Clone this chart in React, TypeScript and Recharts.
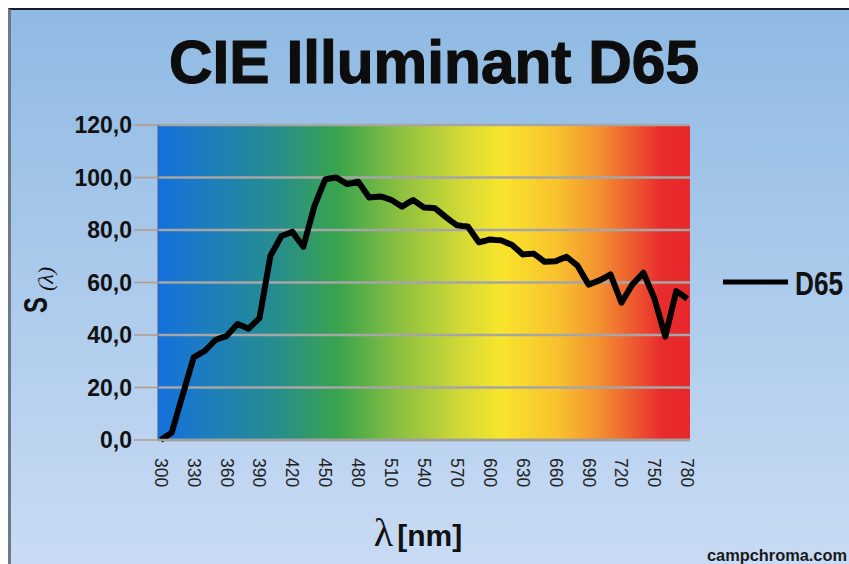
import { LineChart, Line, XAxis, YAxis, CartesianGrid, Legend } from "recharts";

// wavelength in nm
const wavelengths = [
  300, 305, 310, 315, 320, 325, 330, 335, 340, 345, 350, 355, 360, 365, 370, 375,
  380, 385, 390, 395, 400, 405, 410, 415, 420, 425, 430, 435, 440, 445, 450, 455,
  460, 465, 470, 475, 480, 485, 490, 495, 500, 505, 510, 515, 520, 525, 530, 535,
  540, 545, 550, 555, 560, 565, 570, 575, 580, 585, 590, 595, 600, 605, 610, 615,
  620, 625, 630, 635, 640, 645, 650, 655, 660, 665, 670, 675, 680, 685, 690, 695,
  700, 705, 710, 715, 720, 725, 730, 735, 740, 745, 750, 755, 760, 765, 770, 775,
  780,
];

// relative spectral power S(λ)
const d65 = [
  0.0, 1.4, 2.8, 10.0, 17.2, 24.3, 31.5, 32.7, 33.9, 36.0, 38.1, 38.9, 39.6, 41.9, 44.2, 43.3,
  42.4, 44.4, 46.4, 58.3, 70.2, 73.9, 77.7, 78.5, 79.3, 76.4, 73.6, 81.3, 89.0, 94.2, 99.3, 99.7,
  100.0, 98.7, 97.5, 97.9, 98.4, 95.4, 92.4, 92.6, 92.8, 92.2, 91.5, 90.2, 88.9, 90.2, 91.4, 90.0,
  88.6, 88.5, 88.3, 86.6, 84.9, 83.3, 81.8, 81.5, 81.3, 78.3, 75.3, 75.8, 76.4, 76.2, 76.1, 75.2,
  74.4, 72.6, 70.7, 70.9, 71.0, 69.5, 67.9, 68.0, 68.1, 69.0, 69.8, 68.1, 66.4, 62.8, 59.2, 60.0,
  60.8, 61.9, 63.1, 57.7, 52.3, 55.8, 59.3, 61.5, 63.7, 58.9, 54.0, 46.7, 39.4, 48.1, 56.7, 55.3,
  53.8,
];

const xTicks = [300, 330, 360, 390, 420, 450, 480, 510, 540, 570, 600, 630, 660, 690, 720, 750, 780];
const yTicks = [0, 20, 40, 60, 80, 100, 120];

const data = wavelengths.map((nm, i) => ({ nm, D65: d65[i] }));

const sans = "'Liberation Sans', Arial, sans-serif";

const YTick = ({ x, y, payload }: any) => (
  <text x={x} y={y} textAnchor="end" dominantBaseline="central" fontFamily={sans} fontWeight="bold" fontSize={23} fill="#111">
    {payload.value.toFixed(1).replace(".", ",")}
  </text>
);

const XTick = ({ x, y, payload }: any) => (
  <text x={x} y={y} transform={`rotate(90 ${x} ${y})`} textAnchor="start" dominantBaseline="central" fontFamily={sans} fontSize={17.5} fill="#222">
    {payload.value}
  </text>
);

const XTitle = ({ viewBox }: any) => {
  const cx = viewBox.x + viewBox.width / 2 - 6;
  return (
    <text x={cx} y={546} textAnchor="middle" fill="#111">
      <tspan fontFamily="'Liberation Serif', serif" fontSize={40}>λ</tspan>
      <tspan dx={4} fontFamily={sans} fontWeight="bold" fontSize={30}>[nm]</tspan>
    </text>
  );
};

const YTitle = () => (
  <g fill="#111">
    <text transform="translate(47 313) rotate(-90) scale(0.72 1)" fontFamily={sans} fontWeight="bold" fontSize={33}>
      S
    </text>
    <text transform="translate(53 291) rotate(-90)" fontFamily="'Liberation Serif', serif" fontStyle="italic" fontSize={22}>
      (λ)
    </text>
  </g>
);

const LegendBox = () => (
  <svg width={129} height={44}>
    <line x1={5} y1={20} x2={70} y2={20} stroke="#000" strokeWidth={5} />
    <text transform="translate(77 33) scale(0.77 1)" fontFamily={sans} fontWeight="bold" fontSize={34} fill="#111">
      D65
    </text>
  </svg>
);

export default function App() {
  return (
    <div style={{ position: "absolute", left: 0, top: 0, width: 849, height: 564, background: "#fff", overflow: "hidden" }}>
      <div
        style={{
          position: "absolute",
          left: 8,
          top: 8,
          right: 0,
          bottom: 0,
          borderLeft: "3px solid #6b7a88",
          borderTop: "2px solid #151a35",
          background: "linear-gradient(#8fbae3, #c9dbf4)",
        }}
      />
      <svg width={849} height={120} style={{ position: "absolute", left: 0, top: 0 }}>
        <text
          x={434}
          y={83}
          textAnchor="middle"
          fontFamily={sans}
          fontWeight="bold"
          fontSize={61}
          textLength={530}
          lengthAdjust="spacingAndGlyphs"
          fill="#0d0d0d"
          stroke="#0d0d0d"
          strokeWidth={1.2}
        >
          CIE Illuminant D65
        </text>
      </svg>
      <div style={{ position: "absolute", left: 0, top: 0 }}>
        <LineChart width={849} height={564} data={data} margin={{ top: 125, right: 159, bottom: 64, left: 78 }}>
          <defs>
            <linearGradient id="spectrum" x1="0" y1="0" x2="1" y2="0">
              <stop offset="0" stopColor="#1470dc" />
              <stop offset="0.08" stopColor="#1b7cc2" />
              <stop offset="0.22" stopColor="#268d8e" />
              <stop offset="0.34" stopColor="#3aa44c" />
              <stop offset="0.455" stopColor="#8cc040" />
              <stop offset="0.57" stopColor="#d2d936" />
              <stop offset="0.645" stopColor="#f9e52c" />
              <stop offset="0.755" stopColor="#f8c02e" />
              <stop offset="0.83" stopColor="#f39030" />
              <stop offset="0.905" stopColor="#ec5030" />
              <stop offset="0.945" stopColor="#e82c2c" />
              <stop offset="1" stopColor="#e8282c" />
            </linearGradient>
          </defs>
          <CartesianGrid vertical={false} fill="url(#spectrum)" fillOpacity={1} stroke="#a6a6a6" strokeWidth={2.5} />
          <XAxis
            dataKey="nm"
            type="number"
            domain={[297.5, 782.5]}
            ticks={xTicks}
            interval={0}
            height={60}
            tickLine={false}
            tickSize={6}
            tickMargin={12}
            axisLine={{ stroke: "#a0a0a0", strokeWidth: 2.5 }}
            tick={<XTick />}
            label={<XTitle />}
          />
          <YAxis
            domain={[0, 120]}
            ticks={yTicks}
            interval={0}
            width={80}
            tickSize={24}
            tickMargin={2}
            tickLine={{ stroke: "#b39b84", strokeWidth: 1.5 }}
            axisLine={{ stroke: "#3c5f99", strokeWidth: 1 }}
            tick={<YTick />}
            label={<YTitle />}
          />
          <Legend
            layout="horizontal"
            verticalAlign="middle"
            align="center"
            wrapperStyle={{ left: 718, top: 262, width: 129 }}
            content={<LegendBox />}
          />
          <Line type="linear" dataKey="D65" stroke="#000" strokeWidth={6} strokeLinejoin="round" dot={false} isAnimationActive={false} />
        </LineChart>
      </div>
      <svg width={849} height={564} style={{ position: "absolute", left: 0, top: 0, pointerEvents: "none" }}>
        <text x={707} y={561} fontFamily={sans} fontWeight="bold" fontSize={16} textLength={140} lengthAdjust="spacingAndGlyphs" fill="#1a1a1a">
          campchroma.com
        </text>
      </svg>
    </div>
  );
}
